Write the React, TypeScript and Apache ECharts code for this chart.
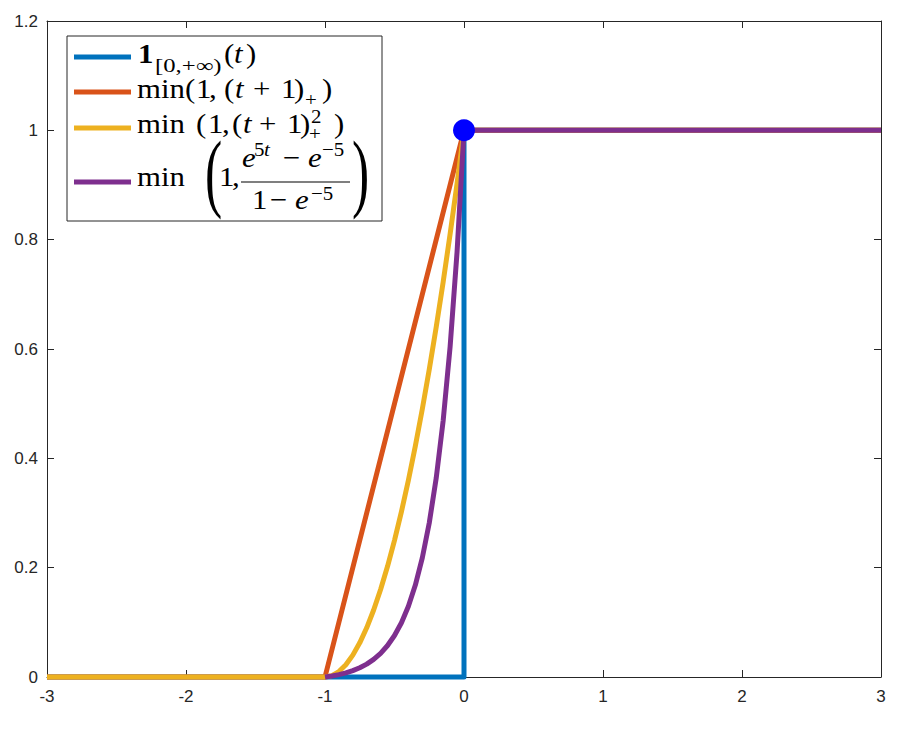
import React, { useEffect, useRef } from "react";
import * as echarts from "echarts";

const X_TICKS = [-3, -2, -1, 0, 1, 2, 3];
const Y_TICKS = [0, 0.2, 0.4, 0.6, 0.8, 1, 1.2];

const blueT = [-3, 0, 0, 3];
const blueY = [0, 0, 1, 1];

const orangeT = [-3, -1, 0, 3];
const orangeY = [0, 0, 1, 1];

const yellowT = [-3, -1, -0.95, -0.9, -0.85, -0.8, -0.75, -0.7, -0.65, -0.6, -0.55, -0.5, -0.45, -0.4, -0.35, -0.3, -0.25, -0.2, -0.15, -0.1, -0.05, 0, 3];
const yellowY = [0, 0, 0.0025, 0.01, 0.0225, 0.04, 0.0625, 0.09, 0.1225, 0.16, 0.2025, 0.25, 0.3025, 0.36, 0.4225, 0.49, 0.5625, 0.64, 0.7225, 0.81, 0.9025, 1, 1];

const purpleT = [-1, -0.95, -0.9, -0.85, -0.8, -0.75, -0.7, -0.65, -0.6, -0.55, -0.5, -0.45, -0.4, -0.35, -0.3, -0.25, -0.2, -0.15, -0.1, -0.05, 0, 3];
const purpleY = [0, 0.0019, 0.0044, 0.0076, 0.0117, 0.0169, 0.0236, 0.0323, 0.0433, 0.0576, 0.0759, 0.0993, 0.1295, 0.1682, 0.2179, 0.2817, 0.3636, 0.4688, 0.6039, 0.7773, 1, 1];

const dotT = [0];
const dotY = [1];

const COLORS = { blue: "#0072BD", orange: "#D95319", yellow: "#EDB120", purple: "#7E2F8E", dot: "#0000FF" };

const zip = (a: number[], b: number[]) => a.map((v, i) => [v, b[i]]);

const SERIF = "'Liberation Serif', 'DejaVu Serif', serif";
const SANS = "'Liberation Sans', Arial, Helvetica, sans-serif";

const F = 28;
const S = 19;
const SX = 1.1;

function txt(x: number, base: number, text: string, size: number, extra: any = {}, sx: number = SX) {
  return {
    type: "text",
    x,
    y: base - 0.33 * size,
    scaleX: sx,
    z: 110,
    style: {
      text,
      fontSize: size,
      fontFamily: SERIF,
      fill: "#000",
      align: "left",
      verticalAlign: "middle",
      ...extra,
    },
  };
}
const it = { fontStyle: "italic" };

export default function App() {
  const ref = useRef<HTMLDivElement>(null);
  useEffect(() => {
    if (!ref.current) return;
    const chart = echarts.init(ref.current, undefined, { renderer: "svg" });
    const axisLine = { show: true, onZero: false, lineStyle: { color: "#262626", width: 1 } };
    const axisTick = { show: true, inside: true, length: 7, lineStyle: { color: "#262626", width: 1 } };
    const lineSeries = (name: string, data: number[][], color: string, z: number) => ({
      name,
      type: "line",
      data,
      showSymbol: false,
      symbol: "none",
      clip: false,
      z,
      lineStyle: { color, width: 5, join: "round" },
      emphasis: { disabled: true },
    });
    const sample = (y: number, color: string) => ({
      type: "line",
      z: 110,
      shape: { x1: 74, y1: y, x2: 131, y2: y },
      style: { stroke: color, lineWidth: 5 },
    });
    const labelStyle = { color: "#262626", fontSize: 17, fontFamily: SANS };
    chart.setOption({
      animation: false,
      grid: { left: 47, right: 32, top: 21, bottom: 56, containLabel: false },
      xAxis: [
        {
          type: "value",
          min: X_TICKS[0],
          max: X_TICKS[X_TICKS.length - 1],
          interval: 1,
          position: "bottom",
          axisLine,
          axisTick,
          splitLine: { show: false },
          axisLabel: { ...labelStyle, margin: 11 },
        },
        {
          type: "value",
          min: X_TICKS[0],
          max: X_TICKS[X_TICKS.length - 1],
          interval: 1,
          position: "top",
          axisLine,
          axisTick,
          splitLine: { show: false },
          axisLabel: { show: false },
        },
      ],
      yAxis: [
        {
          type: "value",
          min: Y_TICKS[0],
          max: Y_TICKS[Y_TICKS.length - 1],
          interval: 0.2,
          position: "left",
          axisLine,
          axisTick,
          splitLine: { show: false },
          axisLabel: { ...labelStyle, margin: 9 },
        },
        {
          type: "value",
          min: Y_TICKS[0],
          max: Y_TICKS[Y_TICKS.length - 1],
          interval: 0.2,
          position: "right",
          axisLine,
          axisTick,
          splitLine: { show: false },
          axisLabel: { show: false },
        },
      ],
      series: [
        lineSeries("blue", zip(blueT, blueY), COLORS.blue, 2),
        lineSeries("orange", zip(orangeT, orangeY), COLORS.orange, 3),
        lineSeries("yellow", zip(yellowT, yellowY), COLORS.yellow, 4),
        lineSeries("purple", zip(purpleT, purpleY), COLORS.purple, 5),
        {
          name: "dot",
          type: "scatter",
          data: zip(dotT, dotY),
          symbol: "circle",
          symbolSize: 22,
          z: 10,
          clip: false,
          itemStyle: { color: COLORS.dot, opacity: 1 },
          emphasis: { disabled: true },
        },
      ],
      graphic: [
        {
          type: "rect",
          z: 105,
          shape: { x: 67, y: 36, width: 315, height: 185 },
          style: { fill: "#fff", stroke: "#262626", lineWidth: 1 },
        },
        sample(57, COLORS.blue),
        sample(92, COLORS.orange),
        sample(128, COLORS.yellow),
        sample(182, COLORS.purple),
        // line 1
        txt(138, 63, "1", F, { fontWeight: "bold" }),
        txt(155, 72, "[0,+∞)", S, {}, 1.3),
        txt(224, 63, "(", F),
        txt(234, 63, "t", F, it),
        txt(246, 63, ")", F),
        // line 2
        txt(137, 98, "min", F),
        txt(185, 98, "(", F),
        txt(196, 98, "1", F),
        txt(209, 98, ",", F),
        txt(224, 98, "(", F),
        txt(235, 98, "t", F, it),
        txt(253, 98, "+", F),
        txt(281, 98, "1", F),
        txt(294, 98, ")", F),
        txt(305, 106, "+", S),
        txt(322, 98, ")", F),
        // line 3
        txt(137, 133, "min", F),
        txt(196, 133, "(", F),
        txt(208, 133, "1", F),
        txt(222, 133, ",", F),
        txt(232, 133, "(", F),
        txt(243, 133, "t", F, it),
        txt(259, 133, "+", F),
        txt(287, 133, "1", F),
        txt(300, 133, ")", F),
        txt(311, 123, "2", S),
        txt(309, 140, "+", S),
        txt(334, 133, ")", F),
        // line 4
        txt(137, 186, "min", F),
        { ...txt(205, 0, "(", 86, {}, 0.6), y: 172 },
        txt(219, 186, "1", F),
        txt(232, 186, ",", F),
        txt(242, 167, "e", F, it),
        txt(254, 156, "5", S),
        txt(264, 156, "t", S, it),
        txt(283, 167, "−", F),
        txt(308, 167, "e", F, it),
        txt(322, 156, "−5", S),
        {
          type: "line",
          z: 110,
          shape: { x1: 241, y1: 182, x2: 350, y2: 182 },
          style: { stroke: "#000", lineWidth: 1.2 },
        },
        txt(252, 209, "1", F),
        txt(270, 209, "−", F),
        txt(295, 209, "e", F, it),
        txt(311, 200, "−5", S),
        { ...txt(352, 0, ")", 86, {}, 0.6), y: 172 },
      ],
    });
    return () => chart.dispose();
  }, []);
  return <div ref={ref} style={{ position: "fixed", left: 0, top: 0, width: 913, height: 733, background: "#fff" }} />;
}
